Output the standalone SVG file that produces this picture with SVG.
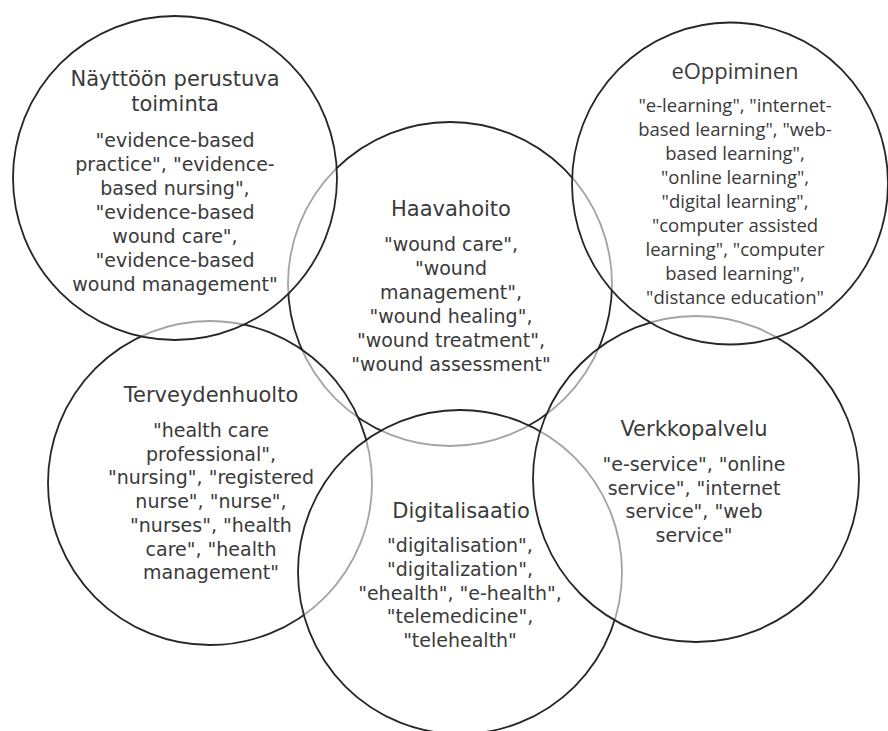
<svg xmlns="http://www.w3.org/2000/svg" width="888" height="731" viewBox="0 0 888 731">
<style>
.c{fill:#fff;fill-opacity:0.58;stroke:#262626;stroke-width:1.8}
.t{font-family:"DejaVu Sans","Verdana",sans-serif;fill:#3a3a3a;text-anchor:middle}
.h{font-size:21px}
.b{font-size:19px}
.o{font-family:"Open Sans","Noto Sans",sans-serif;fill:#3a3a3a;text-anchor:middle}
</style>
<rect width="888" height="731" fill="#fff"/>
<g id="connectors"/>
<g id="haavahoito">
<circle class="c" cx="450" cy="284" r="162"/>
<text class="t h" x="451" y="216">Haavahoito</text>
<text class="t b" y="251"><tspan x="451">"wound care",</tspan><tspan x="451" dy="24">"wound</tspan><tspan x="451" dy="24">management",</tspan><tspan x="451" dy="24">"wound healing",</tspan><tspan x="451" dy="24">"wound treatment",</tspan><tspan x="451" dy="24">"wound assessment"</tspan></text>
</g>
<g id="terveydenhuolto">
<circle class="c" cx="210" cy="483" r="162"/>
<text class="t h" x="211" y="402">Terveydenhuolto</text>
<text class="t b" y="437"><tspan x="211">"health care</tspan><tspan x="211" dy="23.7">professional",</tspan><tspan x="211" dy="23.7">"nursing", "registered</tspan><tspan x="211" dy="23.7">nurse", "nurse",</tspan><tspan x="211" dy="23.7">"nurses", "health</tspan><tspan x="211" dy="23.7">care", "health</tspan><tspan x="211" dy="23.7">management"</tspan></text>
</g>
<g id="digitalisaatio">
<circle class="c" cx="460" cy="572" r="162"/>
<text class="t h" x="461" y="518">Digitalisaatio</text>
<text class="t b" y="552"><tspan x="460">"digitalisation",</tspan><tspan x="460" dy="23.75">"digitalization",</tspan><tspan x="460" dy="23.75">"ehealth", "e-health",</tspan><tspan x="460" dy="23.75">"telemedicine",</tspan><tspan x="460" dy="23.75">"telehealth"</tspan></text>
</g>
<g id="verkkopalvelu">
<circle class="c" cx="696" cy="479" r="163"/>
<text class="t h" x="694" y="436">Verkkopalvelu</text>
<text class="t b" y="471"><tspan x="694">"e-service", "online</tspan><tspan x="694" dy="23.7">service", "internet</tspan><tspan x="694" dy="23.7">service", "web</tspan><tspan x="694" dy="23.7">service"</tspan></text>
</g>
<g id="eoppiminen">
<ellipse class="c" cx="730" cy="183.5" rx="158" ry="161"/>
<text class="o" x="735" y="79" font-size="22">eOppiminen</text>
<text class="o" font-size="18.5" y="112"><tspan x="735">"e-learning", "internet-</tspan><tspan x="735" dy="24">based learning", "web-</tspan><tspan x="735" dy="24">based learning",</tspan><tspan x="735" dy="24">"online learning",</tspan><tspan x="735" dy="24">"digital learning",</tspan><tspan x="735" dy="24">"computer assisted</tspan><tspan x="735" dy="24">learning", "computer</tspan><tspan x="735" dy="24">based learning",</tspan><tspan x="735" dy="24">"distance education"</tspan></text>
</g>
<g id="nayttoon">
<circle class="c" cx="175" cy="178" r="162"/>
<text class="t h" y="86"><tspan x="175">Näyttöön perustuva</tspan><tspan x="175" dy="25">toiminta</tspan></text>
<text class="t b" y="147"><tspan x="175">"evidence-based</tspan><tspan x="175" dy="24">practice", "evidence-</tspan><tspan x="175" dy="24">based nursing",</tspan><tspan x="175" dy="24">"evidence-based</tspan><tspan x="175" dy="24">wound care",</tspan><tspan x="175" dy="24">"evidence-based</tspan><tspan x="175" dy="24">wound management"</tspan></text>
</g>
</svg>
